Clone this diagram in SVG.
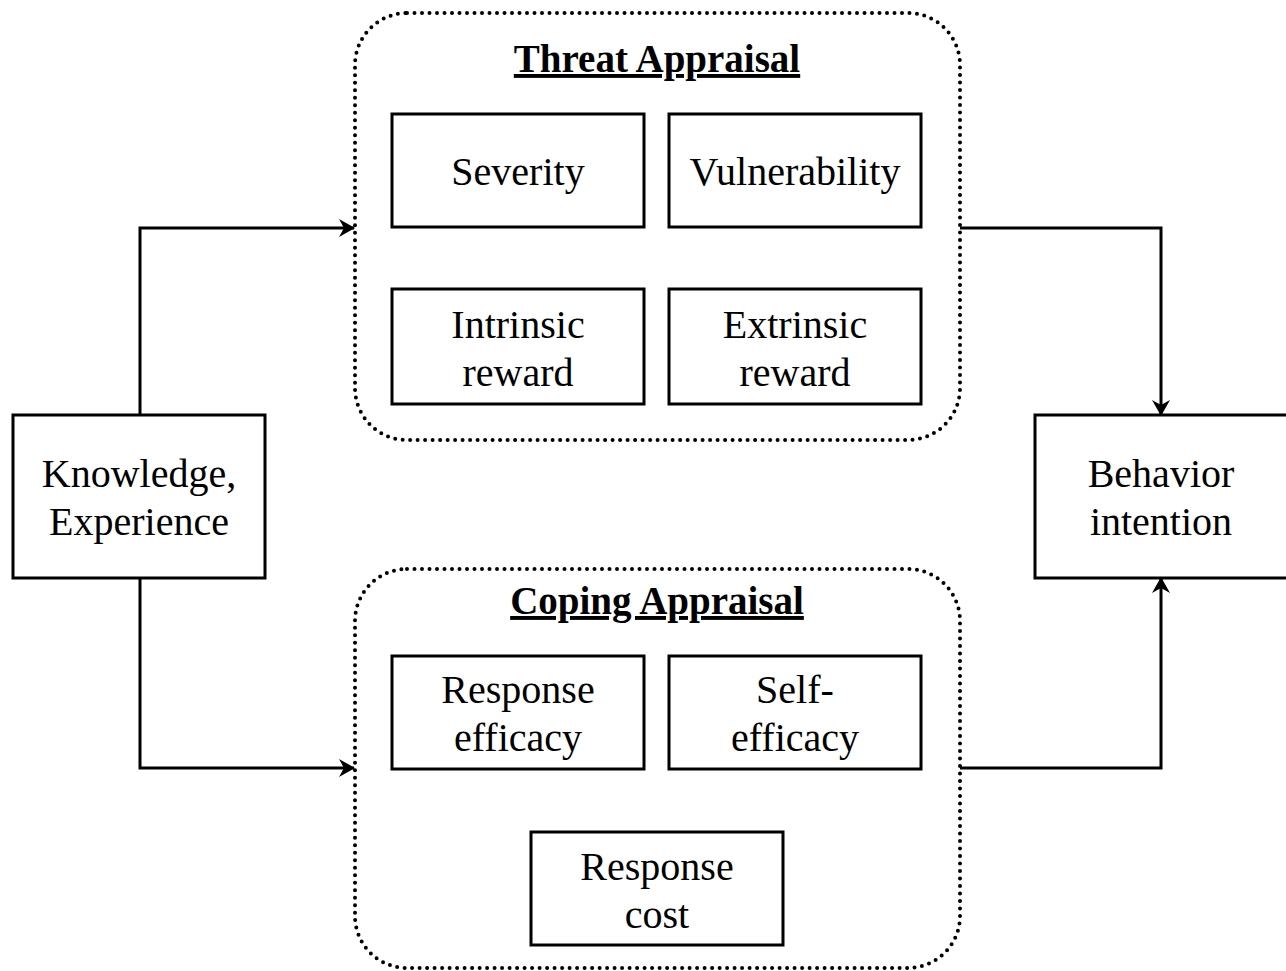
<svg xmlns="http://www.w3.org/2000/svg" width="1286" height="971" viewBox="0 0 1286 971">
<style>
.box{fill:#fff;stroke:#000;stroke-width:3}
.group{fill:none;stroke:#000;stroke-width:4;stroke-dasharray:0 7.5;stroke-linecap:round}
.t{font-family:"Liberation Serif","Times New Roman",serif;font-size:40px;text-anchor:middle;fill:#000}
.h{font-family:"Liberation Serif","Times New Roman",serif;font-size:39px;font-weight:bold;text-anchor:middle;fill:#000;text-decoration:underline}
.c{fill:none;stroke:#000;stroke-width:3}
</style>
<defs>
<marker id="arr" viewBox="0 0 16 18" refX="15" refY="9" markerWidth="16" markerHeight="18" markerUnits="userSpaceOnUse" orient="auto">
<path d="M0,0 L16,9 L0,18 L5,9 Z" fill="#000"/>
</marker>
</defs>
<rect width="1286" height="971" fill="#fff"/>
<g id="connectors">
<path class="c" d="M140,415 V228 H354" marker-end="url(#arr)"/>
<path class="c" d="M140,578 V768 H354" marker-end="url(#arr)"/>
<path class="c" d="M960,228 H1161 V415" marker-end="url(#arr)"/>
<path class="c" d="M960,768 H1161 V578" marker-end="url(#arr)"/>
</g>
<g id="threat-appraisal">
<rect class="group" x="355" y="13" width="605" height="427" rx="52"/>
<text class="h" x="657" y="72">Threat Appraisal</text>
</g>
<g id="coping-appraisal">
<rect class="group" x="355" y="569" width="605" height="399" rx="52"/>
<text class="h" x="657" y="614">Coping Appraisal</text>
</g>
<g id="severity">
<rect class="box" x="392" y="114" width="252" height="113"/>
<text class="t" x="518" y="185">Severity</text>
</g>
<g id="vulnerability">
<rect class="box" x="669" y="114" width="252" height="113"/>
<text class="t" x="795" y="185">Vulnerability</text>
</g>
<g id="intrinsic-reward">
<rect class="box" x="392" y="289" width="252" height="115"/>
<text class="t" x="518" y="338">Intrinsic</text>
<text class="t" x="518" y="386">reward</text>
</g>
<g id="extrinsic-reward">
<rect class="box" x="669" y="289" width="252" height="115"/>
<text class="t" x="795" y="338">Extrinsic</text>
<text class="t" x="795" y="386">reward</text>
</g>
<g id="response-efficacy">
<rect class="box" x="392" y="656" width="252" height="113"/>
<text class="t" x="518" y="703">Response</text>
<text class="t" x="518" y="751">efficacy</text>
</g>
<g id="self-efficacy">
<rect class="box" x="669" y="656" width="252" height="113"/>
<text class="t" x="795" y="703">Self-</text>
<text class="t" x="795" y="751">efficacy</text>
</g>
<g id="response-cost">
<rect class="box" x="531" y="832" width="252" height="113"/>
<text class="t" x="657" y="880">Response</text>
<text class="t" x="657" y="928">cost</text>
</g>
<g id="knowledge-experience">
<rect class="box" x="13" y="415" width="252" height="163"/>
<text class="t" x="139" y="487">Knowledge,</text>
<text class="t" x="139" y="535">Experience</text>
</g>
<g id="behavior-intention">
<rect class="box" x="1035" y="415" width="262" height="163"/>
<text class="t" x="1161" y="487">Behavior</text>
<text class="t" x="1161" y="535">intention</text>
</g>
</svg>
